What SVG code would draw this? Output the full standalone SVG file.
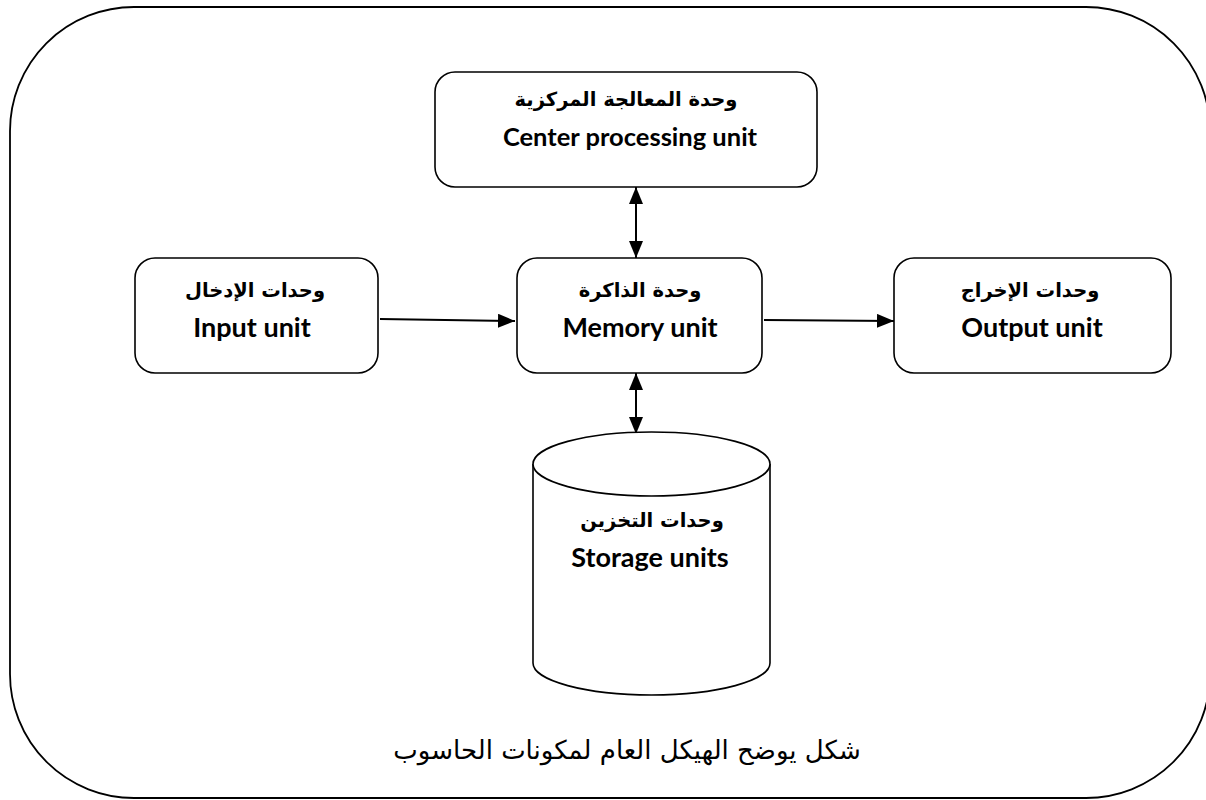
<svg xmlns="http://www.w3.org/2000/svg" width="1206" height="800" viewBox="0 0 1206 800">
  <style>
    .box { fill: #ffffff; stroke: #000000; stroke-width: 1.6; }
    .frame { fill: #ffffff; stroke: #000000; stroke-width: 1.8; }
    .link { stroke: #000000; stroke-width: 2; fill: none; }
    .ar { font-family: "DejaVu Sans", "Noto Sans", sans-serif; font-weight: bold; font-size: 19.5px; text-anchor: middle; fill: #000; }
    .en { font-family: Lato, "Liberation Sans", sans-serif; font-weight: bold; font-size: 27px; text-anchor: middle; fill: #000; }
    .cap { font-family: "DejaVu Sans", "Liberation Sans", sans-serif; font-size: 26px; text-anchor: middle; fill: #000; }
  </style>
  <defs>
    <marker id="head" viewBox="0 0 17 14" refX="17" refY="7" markerWidth="17" markerHeight="14" markerUnits="userSpaceOnUse" orient="auto-start-reverse">
      <path d="M0,0 L17,7 L0,14 Z" fill="#000000"/>
    </marker>
  </defs>

  <rect width="1206" height="800" fill="#ffffff"/>

  <!-- outer frame -->
  <rect class="frame" x="10" y="7" width="1200" height="791" rx="124" ry="124"/>

  <!-- connectors -->
  <g id="connectors">
    <line class="link" x1="380" y1="319" x2="515" y2="321" marker-end="url(#head)"/>
    <line class="link" x1="764" y1="320" x2="894" y2="321" marker-end="url(#head)"/>
    <line class="link" x1="636" y1="187" x2="636" y2="258" marker-start="url(#head)" marker-end="url(#head)"/>
    <line class="link" x1="636" y1="373" x2="636" y2="434" marker-start="url(#head)" marker-end="url(#head)"/>
  </g>

  <g id="cpu">
    <rect class="box" x="435" y="72" width="382" height="115" rx="20" ry="20"/>
    <text class="ar" x="626" y="106">وحدة المعالجة المركزية</text>
    <text class="en" x="630" y="146" style="font-size:25.5px">Center processing unit</text>
  </g>

  <g id="input">
    <rect class="box" x="135" y="258" width="243" height="115" rx="20" ry="20"/>
    <text class="ar" x="255" y="297">وحدات الإدخال</text>
    <text class="en" x="252" y="337">Input unit</text>
  </g>

  <g id="memory">
    <rect class="box" x="517" y="258" width="245" height="115" rx="20" ry="20"/>
    <text class="ar" x="640" y="297">وحدة الذاكرة</text>
    <text class="en" x="640" y="337">Memory unit</text>
  </g>

  <g id="output">
    <rect class="box" x="894" y="258" width="277" height="115" rx="20" ry="20"/>
    <text class="ar" x="1030" y="297">وحدات الإخراج</text>
    <text class="en" x="1032" y="337">Output unit</text>
  </g>

  <g id="storage">
    <path class="box" d="M533,464 A118.5,32 0 0 1 770,464 L770,663 A118.5,32 0 0 1 533,663 Z"/>
    <path class="box" d="M533,464 A118.5,32 0 0 0 770,464" fill="none"/>
    <text class="ar" x="652" y="527">وحدات التخزين</text>
    <text class="en" x="650" y="567">Storage units</text>
  </g>

  <text class="cap" x="627" y="759">شكل يوضح الهيكل العام لمكونات الحاسوب</text>
</svg>
